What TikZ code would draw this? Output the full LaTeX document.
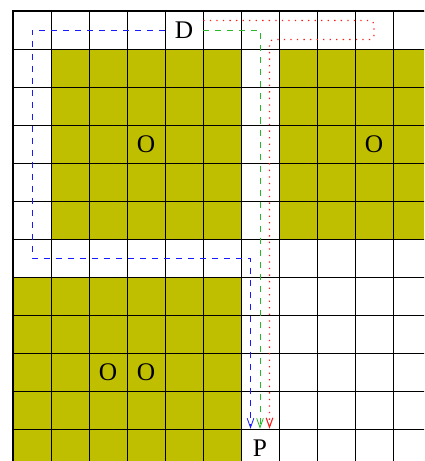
\documentclass[tikz,border=0pt]{standalone}
\usepackage{fontspec}
\setmainfont{Liberation Serif}
\usetikzlibrary{arrows.meta}
\definecolor{cellolive}{rgb}{0.75,0.75,0}
\definecolor{pathblue}{rgb}{0.1,0.1,1}
\definecolor{pathgreen}{rgb}{0.15,0.72,0.15}
\definecolor{pathred}{rgb}{1,0.1,0.1}
\begin{document}
\begin{tikzpicture}[
  lbl/.style={minimum width=1cm,minimum height=1cm,inner sep=0pt,font=\fontsize{19}{21}\selectfont},
  obst/.style={fill=cellolive,draw=none},
  gridline/.style={line width=0.6pt,black},
  route/.style={line width=0.6pt,-{Straight Barb[length=7pt,width=5pt]}},
  blueroute/.style={route,pathblue,dash pattern=on 4.5pt off 4.5pt},
  greenroute/.style={route,pathgreen,dash pattern=on 4.5pt off 4.5pt},
  redroute/.style={route,pathred,line width=0.8pt,dash pattern=on 1pt off 3.9pt,rounded corners=3pt}
]
\useasboundingbox (-0.342,0.289) rectangle (10.816,-11.842);
\clip (-0.342,0.289) rectangle (10.816,-11.842);
\fill[obst] (1,-1) rectangle (6,-6);
\fill[obst] (7,-1) rectangle (12,-6);
\fill[obst] (0,-7) rectangle (6,-13);
\draw[gridline] (0,-13) grid (12,0);
\draw[line width=1.1pt] (0,-13) -- (0,0) -- (12,0);
\node[lbl] (D) at (4.5,-0.5) {D};
\node[lbl] (P) at (6.5,-11.5) {P};
\node[lbl] (o1) at (3.5,-3.5) {O};
\node[lbl] (o2) at (9.5,-3.5) {O};
\node[lbl] (o3) at (2.5,-9.5) {O};
\node[lbl] (o4) at (3.5,-9.5) {O};
\coordinate (b1) at (0.5,-6.5);
\coordinate (r1) at (9.5,-0.25);
\coordinate (r2) at (9.5,-0.75);
\draw[blueroute] (D.west) -| (b1) -| ([xshift=-0.25cm]P.north);
\draw[greenroute] (D.east) -| (P.north);
\draw[redroute] ([yshift=0.25cm]D.east) -- (r1) -- (r2) -| ([xshift=0.25cm]P.north);
\end{tikzpicture}
\end{document}
